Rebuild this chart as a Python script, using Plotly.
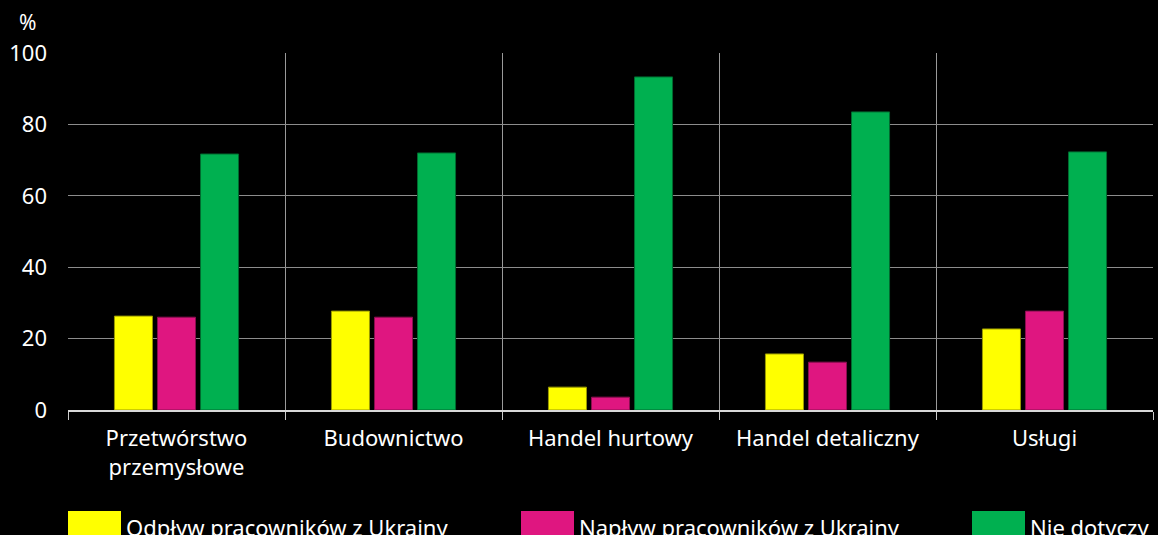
import plotly.graph_objects as go

categories = ["Przetwórstwo<br>przemysłowe", "Budownictwo", "Handel hurtowy", "Handel detaliczny", "Usługi"]
series_names = ["Odpływ pracowników z Ukrainy", "Napływ pracowników z Ukrainy", "Nie dotyczy"]
odplyw = [26.3, 27.7, 6.4, 15.7, 22.7]
naplyw = [26.0, 26.0, 3.6, 13.4, 27.7]
nie_dotyczy = [71.7, 72.0, 93.3, 83.5, 72.3]
colors = ["#FFFF00", "#DF1680", "#00B050"]
edge_colors = ["#9a9a00", "#8a0f50", "#006b30"]
y_ticks = [0, 20, 40, 60, 80, 100]

FONT = "Noto Sans"
fig = go.Figure()
for name, vals, c, ec in zip(series_names, [odplyw, naplyw, nie_dotyczy], colors, edge_colors):
    fig.add_trace(go.Bar(x=categories, y=vals, name=name, marker=dict(color=c, line=dict(color=ec, width=1)),
                         showlegend=False))

# manual legend (swatches + text), mimicking the reference's wide legend
legend_x = [68, 521, 972]
for name, c, lx in zip(series_names, colors, legend_x):
    fig.add_shape(type="rect", xref="paper", yref="paper",
                  x0=(lx - 68) / 1085, x1=(lx - 68 + 53) / 1085,
                  y0=-(540 - 410) / 357, y1=-(511 - 410) / 357,
                  fillcolor=c, line=dict(width=0), layer="above")
    fig.add_annotation(text=name, xref="paper", yref="paper", x=(lx - 68 + 56) / 1085,
                       y=-(510 - 410) / 357, xanchor="left", yanchor="top", showarrow=False,
                       font=dict(family=FONT, size=22, color="white"))

fig.add_annotation(text="%", xref="paper", yref="paper", x=-41 / 1085, y=1 + 31 / 357,
                   xanchor="center", yanchor="middle", showarrow=False,
                   font=dict(family=FONT, size=21, color="white"))

fig.update_layout(
    width=1158, height=535,
    margin=dict(l=68, r=5, t=53, b=125),
    paper_bgcolor="black", plot_bgcolor="black",
    barmode="group", bargap=0.405, bargroupgap=0.116,
    font=dict(family=FONT, size=22, color="white"),
)
fig.update_xaxes(tickson="boundaries", showgrid=True, gridcolor="#9a9a9a", gridwidth=1,
                 ticks="outside", ticklen=8, tickcolor="#cccccc", showline=True, linecolor="#d9d9d9",
                 linewidth=1.5, tickfont=dict(size=22, color="white"), ticklabelstandoff=8, mirror=False)
fig.update_yaxes(range=[0, 100], tickvals=y_ticks, showgrid=True, gridcolor="#8c8c8c", gridwidth=1,
                 zeroline=False, showline=False, ticks="", ticklabelstandoff=20,
                 tickfont=dict(size=22, color="white"))

fig.write_html("out.html", config={"displayModeBar": False})
with open("out.html", encoding="utf-8") as f:
    html = f.read()
html = html.replace("<body>", '<body style="margin:0;background:black;overflow:hidden">', 1)
with open("out.html", "w", encoding="utf-8") as f:
    f.write(html)
